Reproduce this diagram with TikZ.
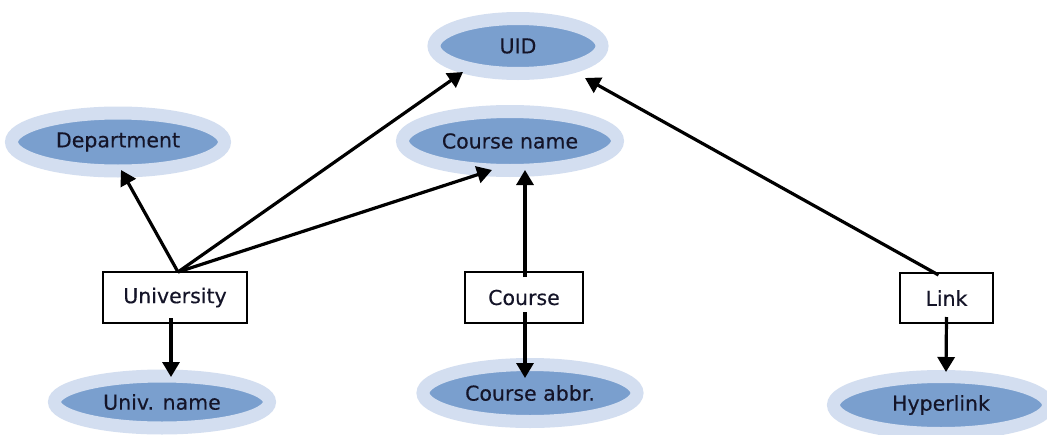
\documentclass[tikz,border=0pt]{standalone}
\usepackage{fontspec}
\setmainfont{DejaVu Sans}
\newfontfamily\lblfont{DejaVu Sans}[FakeBold=0.35]
\usetikzlibrary{arrows.meta,shapes.geometric}
\definecolor{attrin}{RGB}{122,159,206}
\definecolor{attrout}{RGB}{211,222,240}
\definecolor{txt}{RGB}{20,20,40}
\begin{document}
\begin{tikzpicture}[x=1pt,y=-1pt,
  attr/.style={ellipse, draw=attrout, fill=attrin, line width=13pt, inner sep=0pt, outer sep=0pt,
    minimum width=215pt, minimum height=58pt, text=txt, font=\lblfont\fontsize{20.5}{24}\selectfont},
  ent/.style={rectangle, draw=black, line width=1.4pt, fill=white, inner sep=0pt, outer sep=0pt,
    minimum height=51pt, text=txt, font=\lblfont\fontsize{20.5}{24}\selectfont},
  arr/.style={line width=3.2pt, -{Triangle[length=15pt,width=17pt]}}]
\useasboundingbox (0,0) rectangle (1047,434);
\fill[white] (0,0) rectangle (1047,434);

% attributes
\node[attr, minimum width=168pt, minimum height=55pt] (uid) at (518,46) {UID};
\node[attr, minimum width=215pt, minimum height=59pt] (cname) at (510,141) {Course name};
\node[attr, minimum width=213pt, minimum height=58pt] (dept) at (118,142) {Department};
\node[attr, minimum width=215pt, minimum height=52pt] (uname) at (162,402) {Univ. name};
\node[attr, minimum width=214pt, minimum height=57pt] (cabbr) at (530,393) {Course abbr.};
\node[attr, minimum width=215pt, minimum height=57pt] (hyper) at (941,405) {Hyperlink};

% entities
\node[ent, minimum width=144pt] (univ) at (175,297.5) {University};
\node[ent, minimum width=118pt] (course) at (524,297.5) {Course};
\node[ent, minimum width=93pt, minimum height=50pt] (link) at (946.5,298) {Link};

% connectors
\draw[arr] ([xshift=3pt]univ.north) -- ([xshift=3pt,yshift=-28pt]dept.center);
\draw[arr] ([xshift=3pt]univ.north) -- ([xshift=-55pt,yshift=-26pt]uid.center);
\draw[arr] ([xshift=3pt]univ.north) -- ([xshift=-18pt,yshift=-29pt]cname.center);
\draw[arr] ([xshift=-4pt,yshift=5pt]univ.south) -- ([xshift=9pt,yshift=25pt]uname.center);
\draw[arr] ([xshift=1pt,yshift=-5pt]course.north) -- ([xshift=15pt,yshift=-29pt]cname.center);
\draw[arr] ([xshift=1pt,yshift=11pt]course.south) -- ([xshift=-5pt,yshift=15pt]cabbr.center);
\draw[arr] ([xshift=-8pt,yshift=-2pt]link.north) -- ([xshift=67pt,yshift=-32pt]uid.center);
\draw[arr] ([yshift=6pt]link.south) -- ([xshift=5pt,yshift=33pt]hyper.center);
\end{tikzpicture}
\end{document}
